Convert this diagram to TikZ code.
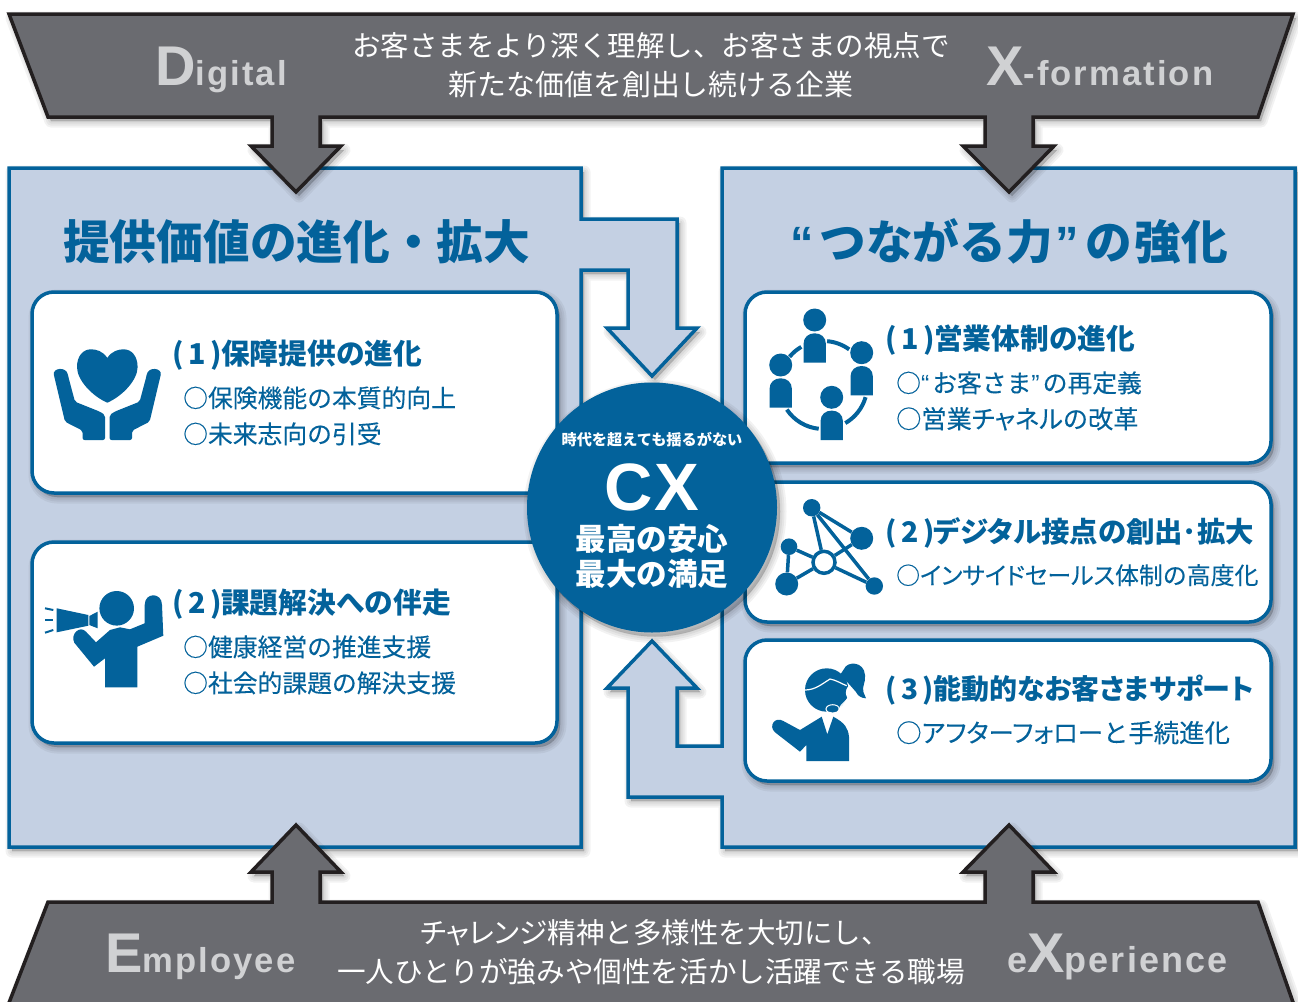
\documentclass[tikz,border=0pt]{standalone}
\usepackage{fontspec}
\setmainfont{Liberation Sans}
\newfontfamily\cjk{Noto Sans CJK JP}
\newfontfamily\cjktight[RawFeature=+palt]{Noto Sans CJK JP}
\newfontfamily\cjkmed[FakeBold=0.15]{Noto Sans CJK JP}
\newfontfamily\cjkmedtight[FakeBold=0.15,RawFeature=+palt]{Noto Sans CJK JP}
\newfontfamily\latinwide[LetterSpace=6]{Liberation Sans}
\usetikzlibrary{positioning}
\definecolor{cxblue}{HTML}{03629B}
\definecolor{panelblue}{HTML}{C4D0E3}
\definecolor{bandgray}{HTML}{6A6B70}
\definecolor{bandline}{HTML}{231F20}
\definecolor{lettergray}{HTML}{D0D1D3}
\tikzset{
  shadowlayer/.style={preaction={draw=black,fill=black,opacity=.05,line width=#1,line join=round,transform canvas={shift={(3pt,-4pt)}}}},
  softshadow/.style={shadowlayer=13pt,shadowlayer=9pt,shadowlayer=5pt,shadowlayer=1pt},
  band/.style={softshadow,draw=bandline,fill=bandgray,line width=3.5pt,line join=miter},
  panel/.style={softshadow,draw=cxblue,fill=panelblue,line width=3.5pt,line join=miter},
  whitebox/.style={softshadow,draw=cxblue,fill=white,line width=3.5pt,rounded corners=22pt},
  icon/.style={fill=cxblue},
  iconring/.style={draw=cxblue,line width=4pt},
  netdot/.style={circle,fill=cxblue,inner sep=0pt,minimum size=#1},
  netline/.style={draw=cxblue,line width=3.5pt},
  bandtext/.style={font=\cjk\fontsize{28.5}{30}\selectfont,text=white,inner sep=0pt,anchor=base},
  bigletter/.style={font=\latinwide\bfseries,text=lettergray,inner sep=0pt,anchor=base west},
  headtext/.style={font=\cjk\bfseries\fontsize{46.7}{50}\selectfont,text=cxblue,inner sep=0pt,anchor=base west},
  titletext/.style={font=\cjk\bfseries\fontsize{28.7}{30}\selectfont,text=cxblue,inner sep=0pt,anchor=base west},
  itemtext/.style={font=\cjkmed\fontsize{24.8}{26}\selectfont,text=cxblue,inner sep=0pt,anchor=base west},
  cxtext/.style={font=\cjk\bfseries\fontsize{30.6}{32}\selectfont,text=white,inner sep=0pt,anchor=base},
  person/.pic={
    \fill[icon] (0,0) circle[radius=11.5pt];
    \fill[icon] (-11.2,42.7) -- (-11.2,24) .. controls (-11.2,17) and (-6,13.3) .. (0,13.3) .. controls (6,13.3) and (11.2,17) .. (11.2,24) -- (11.2,42.7) -- cycle;
  }
}
\newcommand{\bigL}[1]{{\fontsize{56}{56}\selectfont #1}}
\newcommand{\smallL}[1]{{\fontsize{34.6}{35}\selectfont #1}}
\newcommand{\wideL}[1]{{\fontsize{36}{36}\selectfont #1}}
\newcommand{\qt}[1]{{\rmfamily #1}}
\begin{document}
\begin{tikzpicture}[x=1pt,y=-1pt]
\useasboundingbox (0,0) rectangle (1298,1001);

\draw[panel] (9,168) -- (581,168) -- (581,219) -- (677,219) -- (677,328) -- (697,328) -- (652,376) -- (607,328) -- (628,328) -- (628,270) -- (581,270) -- (581,847) -- (9,847) -- cycle;
\draw[panel] (722,168) -- (1295,168) -- (1295,847) -- (722,847) -- (722,797) -- (628,797) -- (628,688) -- (607,688) -- (652,641) -- (697,688) -- (677,688) -- (677,746) -- (722,746) -- cycle;

\draw[whitebox] (32,292) rectangle (557,493);
\draw[whitebox] (32,542) rectangle (557,743);
\draw[whitebox] (745,292) rectangle (1271,463);
\draw[whitebox] (745,482) rectangle (1271,622);
\draw[whitebox] (745,640) rectangle (1271,781);

\draw[band] (9,14) -- (1293,14) -- (1258,117) -- (1033,117) -- (1033,146) -- (1054,146) -- (1009,192) -- (963,146) -- (985,146) -- (985,117) -- (320,117) -- (320,146) -- (341,146) -- (296,192) -- (251,146) -- (272,146) -- (272,117) -- (48,117) -- cycle;
\draw[band] (48,902) -- (272,902) -- (272,872) -- (251,872) -- (296,825) -- (341,872) -- (320,872) -- (320,902) -- (985,902) -- (985,872) -- (963,872) -- (1009,825) -- (1054,872) -- (1033,872) -- (1033,902) -- (1258,902) -- (1295,1008) -- (7,1008) -- cycle;

\node[softshadow,circle,fill=cxblue,inner sep=0pt,minimum size=250pt] (cxcircle) at (652,507.5) {};

\node[bandtext] (topline) at (651,56.6) {お客さまをより深く理解し、お客さまの視点で};
\node[bandtext] (topnext) at (651,95) {\fontsize{28.9}{30}\selectfont 新たな価値を創出し続ける企業};
\node[bandtext,anchor=base west] (botline) at (420,943.8) {\cjktight チャレンジ\cjk 精神と多様性を大切にし、};
\node[bandtext] (botnext) at (651,982) {\fontsize{28.6}{30}\selectfont 一人ひとりが強みや個性を活かし活躍できる職場};
\node[bigletter] (digital) at (155,85) {\bigL{D}\smallL{igital}};
\node[bigletter] (xform) at (986,85) {\bigL{X}\smallL{-formation}};
\node[bigletter] (employee) at (105,972) {\bigL{E}\smallL{mployee}};
\node[bigletter] (experience) at (1007,972) {\wideL{e}\bigL{X}\wideL{perience}};

\node[headtext] (lefthead) at (63,259.7) {提供価値の進化・拡大};
\node[headtext] (righthead) at (790,259.7) {\qt{“}\hspace{6pt}つながる力\hspace{2pt}\qt{”}\hspace{7pt}の\hspace{2pt}強\hspace{1pt}化};

\node[titletext] (ltitleone) at (172,364.6) {(\,1\,)\hspace{-1pt}保障提供の進化};
\node[itemtext] (litemone) at (183,407.3) {○保険機能の本質的向上};
\node[itemtext] (litemtwo) at (183,443.3) {○未来志向の引受};
\node[titletext] (ltitletwo) at (172,613.6) {(\,2\,)\hspace{-1pt}課題解決への伴走};
\node[itemtext] (litemthree) at (183,656.3) {○健康経営の推進支援};
\node[itemtext] (litemfour) at (183,692.3) {○社会的課題の解決支援};

\node[titletext] (rtitleone) at (885,349.6) {(\,1\,)\hspace{-1pt}営業体制の進化};
\node[itemtext] (ritemone) at (896,392.3) {○\qt{“}\hspace{3pt}お客さま\qt{”}\hspace{3pt}の再定義};
\node[itemtext] (ritemtwo) at (896,428.3) {\fontsize{25.2}{26}\selectfont ○営業\cjkmedtight チャネル\cjkmed の改革};
\node[titletext] (rtitletwo) at (885,542.6) {\fontsize{28.4}{30}\selectfont\cjktight\bfseries (\,2\,)\hspace{-1pt}デジタル接点の創出･拡大};
\node[itemtext] (ritemthree) at (896,584.3) {\fontsize{23.9}{26}\selectfont ○\cjkmedtight インサイドセールス\cjkmed 体制の高度化};
\node[titletext] (rtitlethree) at (885,699.6) {\fontsize{28}{30}\selectfont\cjktight\bfseries (\,3\,)\hspace{-1pt}能動的なお客さまサポート};
\node[itemtext] (ritemfour) at (896,742.3) {\fontsize{25.4}{26}\selectfont ○\cjkmedtight アフターフォロー\cjkmed と手続進化};

\node[cxtext,font=\cjk\bfseries\fontsize{15.2}{16}\selectfont] (cxtop) at (652,445.7) {時代を超えても揺るがない};
\node[font=\bfseries\fontsize{67}{67}\selectfont,text=white,inner sep=0pt,anchor=base] (cxname) at (652,510) {C\hspace{2pt}X};
\node[cxtext] (cxone) at (652,550.6) {最高の安心};
\node[cxtext] (cxtwo) at (652,585.6) {最大の満足};

\fill[icon] (107.3,358) .. controls (103,351) and (96,349.3) .. (91,349.3) .. controls (83,349.3) and (77,356) .. (77,367) .. controls (77,380) and (92,396) .. (107.3,402.7) .. controls (122.6,396) and (137.6,380) .. (137.6,367) .. controls (137.6,356) and (131.6,349.3) .. (123.6,349.3) .. controls (118.6,349.3) and (111.6,351) .. cycle;
\foreach \sx in {1,-1}{
  \begin{scope}[xshift=107.3pt,xscale=\sx]
    \fill[icon,rounded corners=2pt] (-53,376.7) .. controls (-55,368) and (-41,366) .. (-39,376.7) -- (-32.3,401.7) -- (-7.3,411.7) -- (-2.3,415) -- (-2.3,440) -- (-24.7,440) -- (-24.7,430.7) -- (-42.3,421.7) -- cycle;
  \end{scope}
}

\fill[icon] (116.7,608.3) circle[radius=17.3pt];
\fill[icon] (56.7,608.3) -- (88.3,615) -- (88.3,625.7) -- (56.7,632.3) -- cycle;
\fill[icon] (89.3,616) -- (97.7,611.7) -- (97.7,628.3) -- (89.3,625) -- cycle;
\draw[cxblue,line width=2pt] (45,608.3) -- (53.3,610);
\draw[cxblue,line width=2pt] (45,620) -- (53.3,620);
\draw[cxblue,line width=2pt] (45,632.7) -- (53.3,630);
\fill[icon] (144.7,605) .. controls (144.7,592) and (162,592) .. (162,605) -- (163.3,635.7) -- (137.3,646.7) -- (137.3,687.3) -- (105,687.3) -- (105,658.3) -- (94,666.7) -- (74.3,642.7) .. controls (70,634) and (80,625) .. (86,631.7) -- (96,642.3) -- (110,630) -- (120,627.3) -- (130,629.3) -- (144.7,623.3) -- cycle;

\pic at (814.7,320) {person};
\pic at (861.7,352.7) {person};
\pic at (780.7,365) {person};
\pic at (831.7,397.3) {person};
\draw[iconring] ([shift={(823.3,385)}]85:44pt) arc[start angle=85,end angle=54,radius=44pt];
\draw[iconring] ([shift={(823.3,385)}]140:44pt) arc[start angle=140,end angle=120,radius=44pt];
\draw[iconring] ([shift={(823.3,385)}]214:44pt) arc[start angle=214,end angle=264,radius=44pt];
\draw[iconring] ([shift={(823.3,385)}]300:44pt) arc[start angle=300,end angle=344,radius=44pt];

\node[netdot=17.4pt] (neta) at (811.7,507.7) {};
\node[netdot=23pt] (netb) at (861.7,538.3) {};
\node[netdot=16.6pt] (netc) at (789,546.7) {};
\node[netdot=23pt] (netd) at (786.7,584) {};
\node[netdot=17.4pt] (nete) at (874.3,586) {};
\node[circle,draw=cxblue,fill=white,line width=3.5pt,inner sep=0pt,minimum size=22pt] (nethub) at (824,562.3) {};
\draw[netline] (neta) -- (netb);
\draw[netline] (neta) -- (nete);
\draw[netline] (neta) -- (nethub);
\draw[netline] (netb) -- (nethub);
\draw[netline] (netc) -- (nethub);
\draw[netline] (netd) -- (nethub);
\draw[netline] (nete) -- (nethub);
\draw[netline] (netc) -- (netd);

\fill[icon] (826.7,690) circle[radius=21.7pt];
\fill[icon] (840,675) -- (844,669) .. controls (847,661) and (864,661) .. (865,675) .. controls (866,682) and (862,686) .. (863.3,691.7) -- (866,698.3) .. controls (861,698) and (858,696) .. (856,692) -- (849,684) -- cycle;
\draw[white,line width=1.2pt] (805,690) .. controls (815,690) and (822,684) .. (830,679) .. controls (836,680) and (842,684) .. (846.7,685.7);
\fill[white] (848.3,686) .. controls (853,690) and (852,696) .. (848.3,698.3) .. controls (845,696) and (845,690) .. cycle;
\draw[white,line width=1pt] (840,706.7) -- (848.3,698.3);
\draw[cxblue,fill=cxblue] (832.7,709) ellipse[x radius=5.7pt,y radius=3.3pt];
\draw[white,line width=1pt] (832.7,709) ellipse[x radius=6.7pt,y radius=4.3pt];
\fill[icon] (775,732.3) -- (800,751.7) -- (806.3,745) -- (806.3,761) -- (849,761) -- (849,736.7) .. controls (848,728) and (845,723) .. (833.3,716.7) -- (827.3,734.3) -- (821.7,716.7) -- (800,730) -- (783.3,721) .. controls (775,716) and (768,726) .. cycle;
\end{tikzpicture}
\end{document}
